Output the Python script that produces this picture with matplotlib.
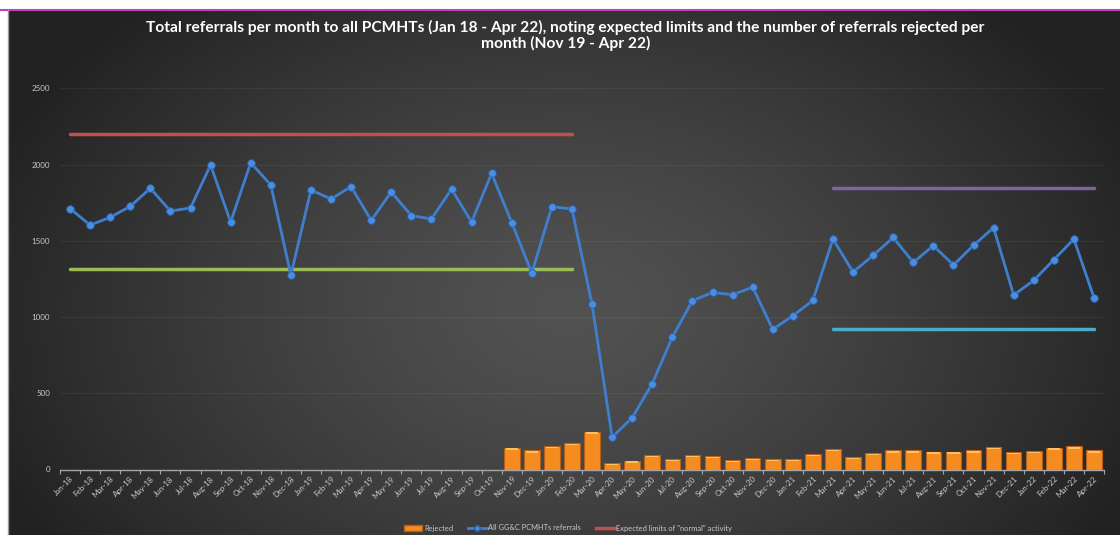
import numpy as np
import matplotlib
matplotlib.use("Agg")
import matplotlib.pyplot as plt
from matplotlib.lines import Line2D
from matplotlib.patches import Patch

months = ["Jan-18","Feb-18","Mar-18","Apr-18","May-18","Jun-18","Jul-18","Aug-18","Sep-18","Oct-18","Nov-18","Dec-18",
          "Jan-19","Feb-19","Mar-19","Apr-19","May-19","Jun-19","Jul-19","Aug-19","Sep-19","Oct-19","Nov-19","Dec-19",
          "Jan-20","Feb-20","Mar-20","Apr-20","May-20","Jun-20","Jul-20","Aug-20","Sep-20","Oct-20","Nov-20","Dec-20",
          "Jan-21","Feb-21","Mar-21","Apr-21","May-21","Jun-21","Jul-21","Aug-21","Sep-21","Oct-21","Nov-21","Dec-21",
          "Jan-22","Feb-22","Mar-22","Apr-22"]

referrals = [1711,1603,1654,1726,1844,1695,1715,1997,1623,2012,1866,1275,
             1833,1774,1855,1634,1820,1665,1643,1839,1623,1942,1619,1288,
             1724,1708,1083,212,339,564,868,1107,1161,1146,1196,919,
             1008,1109,1511,1295,1404,1522,1358,1468,1341,1470,1586,1144,
             1240,1376,1511,1127]

rejected = [None]*22 + [144,125,153,175,249,42,59,96,68,94,90,63,77,68,68,101,136,83,109,125,125,118,118,125,149,114,120,144,151,125]

upper_pre = 2200
lower_pre = 1312
upper_post = 1846
lower_post = 919
pre_range = ("Jan-18", "Feb-20")
post_range = ("Mar-21", "Apr-22")

title = ("Total referrals per month to all PCMHTs (Jan 18 - Apr 22), noting expected limits and the number of referrals rejected per\n"
         "month (Nov 19 - Apr 22)")

W, H = 1120, 535
fig = plt.figure(figsize=(W/100, H/100), dpi=100, facecolor="white")

# background gradient
bg = fig.add_axes([8/W, 0, 1-8/W, 1-10/H])
yy, xx = np.mgrid[0:525, 0:1112]
d = np.sqrt(((xx-560)/620.0)**2 + ((yy-300)/420.0)**2)
d = np.clip(d, 0, 1)
c0, c1 = 0x52, 0x22
val = (c0 + (c1-c0)*d**1.3)/255.0
img = np.dstack([val, val, val])
bg.imshow(img, aspect="auto", extent=[0, 1, 0, 1], origin="upper")
bg.set_axis_off()
fig.add_artist(Line2D([0, 1], [1-9.5/H, 1-9.5/H], transform=fig.transFigure, color="#C040C0", lw=1.5))
fig.add_artist(Line2D([8/W, 8/W], [0, 1-10/H], transform=fig.transFigure, color="#9a9a9a", lw=1))

ax = fig.add_axes([60/W, 1-469.5/H, (1104-60)/W, (469.5-88.3)/H])
ax.set_facecolor("none")
x = np.arange(len(months))
rej = np.array([np.nan if v is None else v for v in rejected], dtype=float)

ax.bar(x, rej, width=0.78, color="#F68B1F", edgecolor="#B5601A", linewidth=0.8, zorder=2)
# highlight at bar tops
ax.bar(x, np.where(np.isnan(rej), np.nan, 8), bottom=rej-14, width=0.62, color="#FFC060", linewidth=0, zorder=2.5)

ax.plot(x, referrals, color="#3F7FD0", lw=2, marker="o", ms=5.5, mfc="#4A8EE0", mec="#2A60A8", mew=0.6, zorder=4)

i0, i1 = months.index(pre_range[0]), months.index(pre_range[1])
j0, j1 = months.index(post_range[0]), months.index(post_range[1])
ax.plot([i0, i1], [upper_pre]*2, color="#C0504D", lw=2.5, solid_capstyle="round", zorder=3)
ax.plot([i0, i1], [lower_pre]*2, color="#9BBB59", lw=2.5, solid_capstyle="round", zorder=3)
ax.plot([j0, j1], [upper_post]*2, color="#8064A2", lw=2.5, solid_capstyle="round", zorder=3)
ax.plot([j0, j1], [lower_post]*2, color="#4BACC6", lw=2.5, solid_capstyle="round", zorder=3)

ax.set_xlim(-0.5, len(months)-0.5)
ax.set_ylim(0, 2500)
ax.set_yticks(range(0, 2501, 500))
ax.grid(axis="y", color="white", alpha=0.06, lw=0.8, zorder=0)
ax.set_axisbelow(True)
for s in ["top", "right", "left"]:
    ax.spines[s].set_visible(False)
ax.spines["bottom"].set_color("#A6A6A6")
ax.spines["bottom"].set_linewidth(1)
ax.tick_params(axis="y", length=0, labelsize=5.8, labelcolor="#C8C8C8", pad=7)
for t in ax.get_yticklabels():
    t.set_family("Lato")
ax.set_xticks(np.arange(-0.5, len(months), 1.0))
ax.set_xticklabels([])
ax.tick_params(axis="x", which="major", length=3, color="#A6A6A6", width=0.8)
ax.set_xticks(x, minor=True)
ax.set_xticklabels(months, minor=True, rotation=45, ha="right", rotation_mode="anchor", fontsize=5.8,
                   color="#C8C8C8", family="Lato")
ax.tick_params(axis="x", which="minor", length=0, pad=4)

fig.text(565.5/W, 1-35.5/H, title, ha="center", va="center", multialignment="center", color="white",
         fontsize=11.2, fontweight="bold", family="Lato", linespacing=1.15)

handles = [Patch(facecolor="#F68B1F", edgecolor="#B5601A", label="Rejected"),
           Line2D([], [], color="#3F7FD0", lw=2, marker="o", ms=4, mfc="#4A8EE0", mec="#2A60A8", label="All GG&C PCMHTs referrals"),
           Line2D([], [], color="#C0504D", lw=2.5, label='Expected limits of "normal" activity')]
leg = fig.legend(handles=handles, loc="center", bbox_to_anchor=(568/W, 1-528/H), ncol=3, frameon=False,
                 prop={"family": "Lato", "size": 5.4}, labelcolor="#C8C8C8", handlelength=2.5, handleheight=0.7,
                 columnspacing=2.0, handletextpad=0.2)

fig.savefig("out.png", dpi=100, facecolor="white")
